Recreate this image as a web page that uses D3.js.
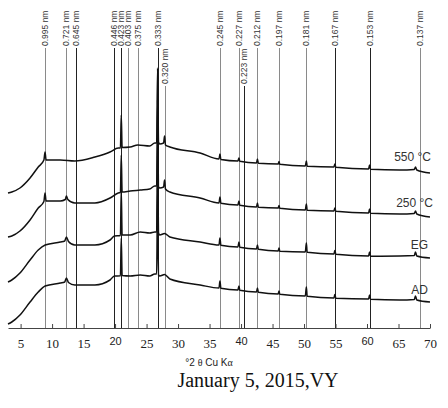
<!DOCTYPE html>
<html><head><meta charset="utf-8">
<script src="https://cdn.jsdelivr.net/npm/d3@7"></script>
<style>
html,body{margin:0;padding:0;background:#fff;}
svg{display:block;}
</style></head>
<body>
<svg id="chart" width="448" height="408"></svg>
<script>
// ---- data ----
const xTicks = [5,10,15,20,25,30,35,40,45,50,55,60,65,70];
const dSpacings = [0.995,0.721,0.645,0.446,0.423,0.403,0.375,0.333,0.320,0.245,0.227,0.223,0.212,0.197,0.181,0.167,0.153,0.137];
const dLabels = ["0.995 nm","0.721 nm","0.645 nm","0.446 nm","0.423 nm","0.403 nm","0.375 nm","0.333 nm","0.320 nm","0.245 nm","0.227 nm","0.223 nm","0.212 nm","0.197 nm","0.181 nm","0.167 nm","0.153 nm","0.137 nm"];
const seriesNames = ["550 °C","250 °C","EG","AD"];
const s550 = [[3.0,1350],[3.6,1360],[4.9,1400],[6.5,1500],[7.8,1610],[8.7,1680],[8.88,1760],[9.05,1680],[11.3,1680],[13.6,1670],[16.8,1710],[19.2,1760],[20.5,1800],[20.85,1800],[20.98,2130],[21.12,1805],[22.4,1810],[23.6,1830],[25.5,1820],[26.3,1850],[26.6,1850],[26.75,2600],[26.9,1860],[27.1,1840],[27.7,1850],[27.86,1920],[28.0,1830],[28.7,1810],[33.5,1750],[36.5,1690],[36.65,1740],[36.8,1685],[39.5,1670],[39.67,1700],[39.8,1668],[42.45,1650],[42.6,1690],[42.75,1648],[45.9,1640],[46.03,1665],[46.15,1638],[50.2,1620],[50.37,1670],[50.5,1618],[54.75,1610],[54.9,1640],[55.05,1608],[60.25,1590],[60.4,1630],[60.55,1588],[65.2,1580],[67.5,1585],[67.7,1610],[67.9,1580],[70.0,1550]];
const s250 = [[3.0,910],[3.6,920],[4.9,970],[6.5,1080],[7.8,1200],[8.7,1265],[8.88,1350],[9.05,1270],[11.3,1270],[12.1,1285],[12.27,1320],[12.5,1285],[13.6,1250],[16.8,1250],[19.2,1300],[20.5,1350],[20.85,1355],[20.98,1730],[21.12,1360],[22.4,1370],[24.0,1380],[25.5,1390],[26.3,1420],[26.6,1420],[26.75,2280],[26.9,1410],[27.1,1400],[27.7,1410],[27.86,1480],[28.0,1390],[28.7,1360],[33.5,1300],[36.5,1250],[36.65,1310],[36.8,1248],[39.5,1230],[39.67,1270],[39.8,1228],[42.45,1210],[42.6,1250],[42.75,1208],[45.9,1200],[46.03,1225],[46.15,1198],[50.2,1180],[50.37,1240],[50.5,1178],[54.75,1170],[54.9,1200],[55.05,1168],[60.25,1150],[60.4,1190],[60.55,1148],[65.2,1140],[67.5,1145],[67.7,1170],[67.9,1140],[70.0,1110]];
const sEG = [[3.0,460],[3.6,480],[4.9,550],[6.5,680],[7.8,780],[8.9,830],[11.3,860],[12.0,870],[12.27,910],[12.6,865],[13.6,830],[16.8,830],[19.2,880],[19.89,920],[20.85,925],[20.98,1380],[21.12,930],[22.4,930],[24.0,960],[25.5,950],[26.3,960],[26.6,960],[26.75,1900],[26.9,950],[27.1,930],[27.86,945],[28.7,910],[33.5,860],[36.5,830],[36.65,900],[36.8,828],[39.5,810],[39.67,860],[39.8,808],[42.45,790],[42.6,830],[42.75,788],[45.9,770],[46.03,800],[46.15,768],[50.2,760],[50.37,850],[50.5,758],[54.75,740],[54.9,775],[55.05,738],[60.25,720],[60.4,760],[60.55,718],[65.2,720],[67.5,725],[67.7,760],[67.9,720],[70.0,700]];
const sAD = [[3.0,40],[3.6,60],[4.9,130],[6.5,260],[7.8,360],[8.9,420],[11.3,450],[12.0,460],[12.27,500],[12.6,455],[13.6,430],[16.8,430],[19.2,480],[19.89,520],[20.85,522],[20.98,900],[21.12,525],[22.4,520],[24.0,530],[25.5,520],[26.3,540],[26.6,540],[26.75,1400],[26.9,530],[27.1,520],[27.86,535],[28.7,490],[33.5,430],[36.5,400],[36.65,470],[36.8,398],[39.5,380],[39.67,420],[39.8,378],[42.45,360],[42.6,400],[42.75,358],[45.9,340],[46.03,370],[46.15,338],[50.2,320],[50.37,410],[50.5,318],[54.75,300],[54.9,335],[55.05,298],[60.25,290],[60.4,330],[60.55,288],[65.2,280],[67.5,285],[67.7,320],[67.9,280],[70.0,260]];
const seriesData = [s550, s250, sEG, sAD];
const lambda = 0.15406; // Cu Kα wavelength, nm

// ---- layout ----
const svg = d3.select("#chart");
const x = d3.scaleLinear().domain([3, 70]).range([8, 430]);
const y = d3.scaleLinear().domain([0, 3200]).range([328, 8]);
const twoTheta = d => 2 * Math.asin(lambda / (2 * d)) * 180 / Math.PI;

const lowered = new Set(["0.320 nm","0.223 nm"]);
const darkLines = new Set(["0.446 nm","0.423 nm","0.333 nm","0.645 nm","0.223 nm","0.167 nm","0.153 nm"]);

// reference lines + labels
const refs = svg.append("g");
dSpacings.forEach((d, i) => {
  const lab = dLabels[i];
  const xp = Math.round(x(twoTheta(d))) + 0.5;
  const top = lowered.has(lab) ? 86 : 48;
  refs.append("line")
    .attr("x1", xp).attr("x2", xp).attr("y1", top).attr("y2", 328)
    .attr("stroke", darkLines.has(lab) ? "#222" : "#8a8a8a")
    .attr("stroke-width", 1);
  refs.append("text")
    .attr("transform", `translate(${xp},${top - 2}) rotate(-90)`)
    .attr("dy", "0.35em")
    .attr("font-family", "Liberation Sans, Arial, sans-serif")
    .attr("font-size", 8.5)
    .attr("fill", "#333")
    .text(lab);
});

// curves
const line = d3.line().x(p => x(p[0])).y(p => y(p[1])).curve(d3.curveMonotoneX);
seriesData.forEach(s => {
  svg.append("path").datum(s)
    .attr("d", line)
    .attr("fill", "none")
    .attr("stroke", "#111")
    .attr("stroke-width", 1.5)
    .attr("stroke-linejoin", "round");
});

// series labels
const labelPos = [[431,157],[433,203],[428,245],[428,290]];
seriesNames.forEach((n, i) => {
  svg.append("text")
    .attr("x", labelPos[i][0]).attr("y", labelPos[i][1])
    .attr("dy", "0.35em")
    .attr("text-anchor", "end")
    .attr("font-family", "Liberation Sans, Arial, sans-serif")
    .attr("font-size", 12)
    .attr("fill", "#333")
    .text(n);
});

// x axis
const axis = svg.append("g").attr("transform", "translate(0,328)")
  .call(d3.axisBottom(x).tickValues(xTicks).tickSizeInner(-4).tickSizeOuter(0).tickPadding(11).tickFormat(d3.format("d")));
axis.select(".domain").attr("stroke", "#444");
axis.selectAll(".tick line").attr("stroke", "#444");
axis.selectAll(".tick text")
  .attr("fill", "#222")
  .attr("font-family", d => (d % 20 === 0) ? "Liberation Sans, Arial, sans-serif" : "Liberation Serif, Times New Roman, serif")
  .attr("font-size", d => (d % 20 === 0) ? 11 : 13)
  .attr("dy", d => (d % 20 === 0) ? "0.55em" : "0.71em");

// axis title
const title = svg.append("text").attr("x", 209).attr("y", 362).attr("dy", "0.35em")
  .attr("text-anchor", "middle").attr("font-size", 10).attr("fill", "#222")
  .attr("font-family", "Liberation Sans, Arial, sans-serif");
title.append("tspan").text("°2 ");
title.append("tspan").attr("font-family", "Liberation Serif, serif").text("θ");
title.append("tspan").text(" Cu K");
title.append("tspan").attr("font-family", "Liberation Serif, serif").text("α");

svg.append("text").attr("x", 258).attr("y", 380).attr("dy", "0.35em")
  .attr("text-anchor", "middle").attr("font-size", 20).attr("fill", "#111")
  .attr("font-family", "Liberation Serif, Times New Roman, serif")
  .text("January 5, 2015,VY");
</script>
</body></html>
